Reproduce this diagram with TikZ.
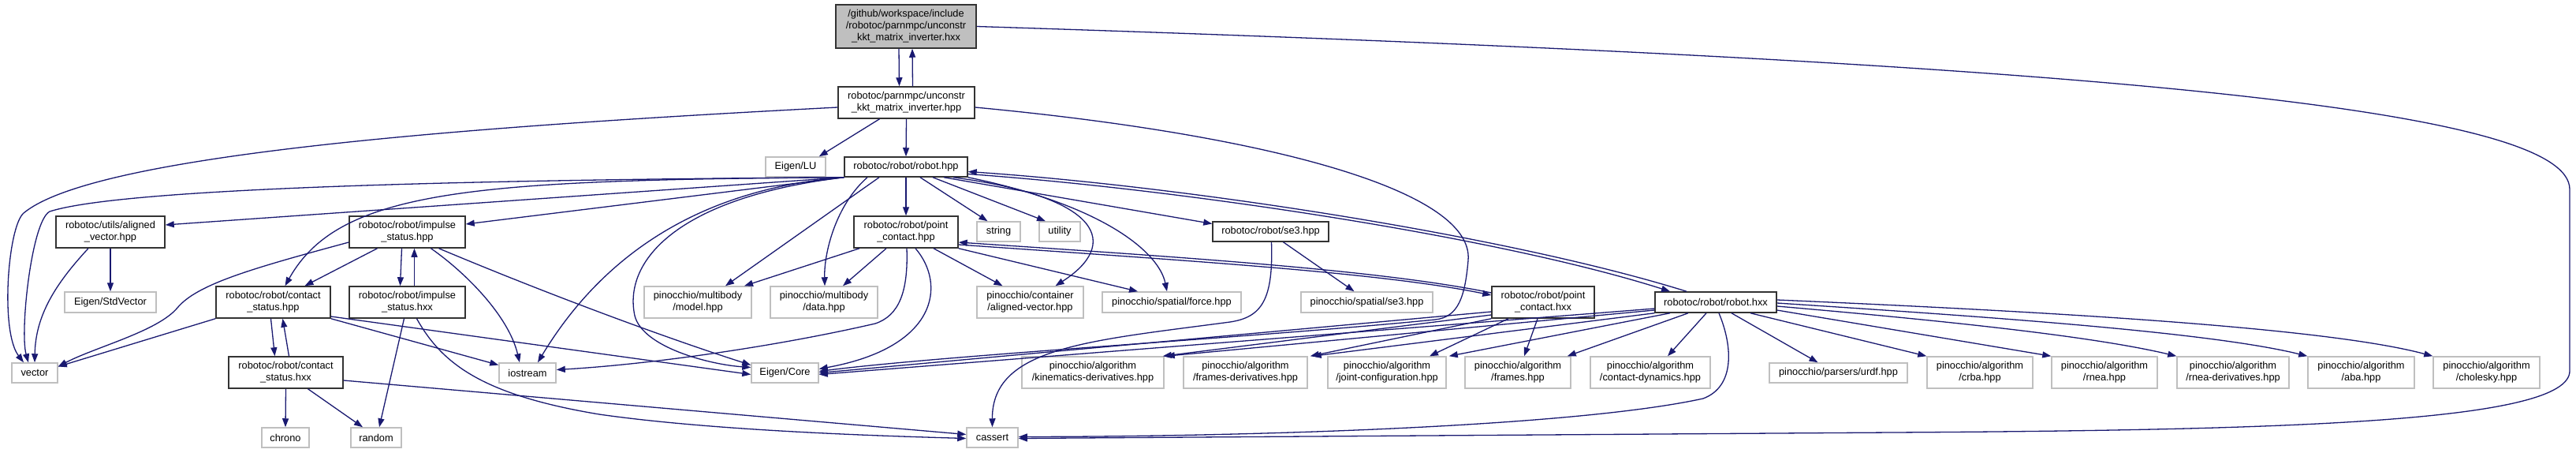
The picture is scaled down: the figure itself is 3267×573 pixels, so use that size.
\documentclass[tikz,border=0pt]{standalone}
\usepackage{fontspec}
\setmainfont{Liberation Sans}
\usetikzlibrary{arrows.meta}
\definecolor{edgec}{RGB}{25,25,112}
\newcommand{\nf}{\fontsize{12.8pt}{15pt}\selectfont}
\begin{document}
\begin{tikzpicture}[x=1pt,y=-1pt,
  nb/.style={draw=black!80, line width=1.5pt, fill=white, inner sep=0pt, align=center, font=\nf},
  ng/.style={draw=black!25, line width=1.5pt, fill=white, inner sep=0pt, align=center, font=\nf},
  dep/.style={draw=edgec, line width=1.3pt, -{Triangle[length=11pt,width=8pt]}}]
\useasboundingbox (0,0) rectangle (3267,573);
% nodes
\node[nb,fill=black!25,minimum width=178pt,minimum height=55pt] (top) at (1149,33.5) {/github/workspace/include\\/robotoc/parnmpc/unconstr\\\_kkt\_matrix\_inverter.hxx};
\node[nb,minimum width=173pt,minimum height=40pt] (unc) at (1149.5,130) {robotoc/parnmpc/unconstr\\\_kkt\_matrix\_inverter.hpp};
\node[ng,minimum width=76pt,minimum height=25pt] (lu) at (1009,211.5) {Eigen/LU};
\node[nb,minimum width=156pt,minimum height=25pt] (robot) at (1149,211.5) {robotoc/robot/robot.hpp};
\node[nb,minimum width=138pt,minimum height=40pt] (alv) at (140,294) {robotoc/utils/aligned\\\_vector.hpp};
\node[nb,minimum width=147pt,minimum height=40pt] (imph) at (516.5,294) {robotoc/robot/impulse\\\_status.hpp};
\node[nb,minimum width=132pt,minimum height=40pt] (pch) at (1149,294) {robotoc/robot/point\\\_contact.hpp};
\node[ng,minimum width=55pt,minimum height=25pt] (string) at (1266.5,293.5) {string};
\node[ng,minimum width=52pt,minimum height=25pt] (utility) at (1344,293.5) {utility};
\node[nb,minimum width=147pt,minimum height=25pt] (se3) at (1611.5,293.5) {robotoc/robot/se3.hpp};
\node[ng,minimum width=116pt,minimum height=26pt] (stdvec) at (140,383) {Eigen/StdVector};
\node[nb,minimum width=145pt,minimum height=40pt] (csh) at (346.5,383) {robotoc/robot/contact\\\_status.hpp};
\node[nb,minimum width=147pt,minimum height=40pt] (imhx) at (516.5,383) {robotoc/robot/impulse\\\_status.hxx};
\node[ng,minimum width=136pt,minimum height=40pt] (model) at (885,383) {pinocchio/multibody\\/model.hpp};
\node[ng,minimum width=136pt,minimum height=40pt] (data) at (1045,383) {pinocchio/multibody\\/data.hpp};
\node[ng,minimum width=135pt,minimum height=40pt] (cont) at (1306.5,383) {pinocchio/container\\/aligned-vector.hpp};
\node[ng,minimum width=176pt,minimum height=26pt] (force) at (1486,383) {pinocchio/spatial/force.hpp};
\node[ng,minimum width=167pt,minimum height=26pt] (pse3) at (1733.5,383) {pinocchio/spatial/se3.hpp};
\node[nb,minimum width=130pt,minimum height=40pt] (pcx) at (1957,383) {robotoc/robot/point\\\_contact.hxx};
\node[nb,minimum width=154pt,minimum height=26pt] (rhx) at (2176,383) {robotoc/robot/robot.hxx};
\node[ng,minimum width=58pt,minimum height=25pt] (vector) at (44,472.5) {vector};
\node[nb,minimum width=145pt,minimum height=40pt] (cshx) at (362.5,472) {robotoc/robot/contact\\\_status.hxx};
\node[ng,minimum width=72pt,minimum height=25pt] (iostream) at (669,472.5) {iostream};
\node[ng,minimum width=85pt,minimum height=25pt] (eigcore) at (995.5,472.5) {Eigen/Core};
\node[ng,minimum width=180pt,minimum height=40pt] (kin) at (1386,472) {pinocchio/algorithm\\/kinematics-derivatives.hpp};
\node[ng,minimum width=157pt,minimum height=40pt] (fder) at (1579.5,472) {pinocchio/algorithm\\/frames-derivatives.hpp};
\node[ng,minimum width=150pt,minimum height=40pt] (jconf) at (1759,472) {pinocchio/algorithm\\/joint-configuration.hpp};
\node[ng,minimum width=134pt,minimum height=40pt] (frames) at (1925,472) {pinocchio/algorithm\\/frames.hpp};
\node[ng,minimum width=152pt,minimum height=40pt] (cdyn) at (2093,472) {pinocchio/algorithm\\/contact-dynamics.hpp};
\node[ng,minimum width=175pt,minimum height=25pt] (urdf) at (2331.5,472.5) {pinocchio/parsers/urdf.hpp};
\node[ng,minimum width=134pt,minimum height=40pt] (crba) at (2511,472) {pinocchio/algorithm\\/crba.hpp};
\node[ng,minimum width=134pt,minimum height=40pt] (rnea) at (2669,472) {pinocchio/algorithm\\/rnea.hpp};
\node[ng,minimum width=142pt,minimum height=40pt] (rneader) at (2832,472) {pinocchio/algorithm\\/rnea-derivatives.hpp};
\node[ng,minimum width=135pt,minimum height=40pt] (aba) at (2994.5,472) {pinocchio/algorithm\\/aba.hpp};
\node[ng,minimum width=135pt,minimum height=40pt] (chol) at (3153.5,472) {pinocchio/algorithm\\/cholesky.hpp};
\node[ng,minimum width=60pt,minimum height=25pt] (chrono) at (362,554.5) {chrono};
\node[ng,minimum width=64pt,minimum height=25pt] (random) at (477,554.5) {random};
\node[ng,minimum width=65pt,minimum height=25pt] (cassert) at (1258.5,554.5) {cassert};
% edges: top / unc
\draw[dep] ([xshift=-9pt]top.south) -- ([xshift=-9pt]unc.north);
\draw[dep] ([xshift=8pt]unc.north) -- ([xshift=8pt]top.south);
\draw[dep] (top.east) .. controls (2700,80) and (3259,140) .. (3259,240) -- (3259,470) .. controls (3259,535) and (2900,545) .. (2400,548) -- ([yshift=-1pt]cassert.east);
\draw[dep] ([yshift=-6pt]unc.west) .. controls (600,160) and (120,195) .. (30,270) .. controls (10,287) and (0,420) .. ([xshift=-14pt]vector.north);
\draw[dep] ([xshift=-34pt]unc.south) -- ([xshift=-9pt]lu.north east);
\draw[dep] (unc.south) -- (robot.north);
\draw[dep] ([yshift=-6pt]unc.east) .. controls (1600,170) and (1870,240) .. (1862,330) .. controls (1858,375) and (1850,402) .. (1820,405) .. controls (1600,427) and (1200,450) .. ([yshift=2pt]eigcore.east);
% robot.hpp
\draw[dep] (robot.south west) .. controls (550,228) and (150,240) .. (63,268) .. controls (40,280) and (25,420) .. ([xshift=-8pt]vector.north);
\draw[dep] (robot.south west) -- ([yshift=9pt]alv.east);
\draw[dep] (robot.south west) -- ([yshift=10pt]imph.east);
\draw[dep] (robot.south west) .. controls (600,228) and (430,240) .. ([xshift=15pt]csh.north);
\draw[dep] (robot.south west) .. controls (880,240) and (760,330) .. ([xshift=13pt]iostream.north);
\draw[dep] (robot.south west) .. controls (860,250) and (790,330) .. (805,400) .. controls (815,440) and (900,462) .. ([yshift=7pt]eigcore.west);
\draw[dep] ([xshift=-34pt]robot.south) -- ([xshift=35pt]model.north);
\draw[dep] ([xshift=-49pt]robot.south) .. controls (1060,260) and (1045,320) .. ([xshift=1pt]data.north);
\draw[dep] (robot.south) -- (pch.north);
\draw[dep] ([xshift=18pt]robot.south) -- ([xshift=-14pt]string.north);
\draw[dep] ([xshift=34pt]robot.south) -- ([xshift=-18pt]utility.north);
\draw[dep] ([xshift=48pt]robot.south) -- ([yshift=10pt]se3.west);
\draw[dep] ([xshift=60pt]robot.south) .. controls (1400,250) and (1420,310) .. ([xshift=32pt]cont.north);
\draw[dep] (robot.south east) .. controls (1400,260) and (1470,320) .. ([xshift=-6pt]force.north);
\draw[dep] ([yshift=-9pt]robot.east) .. controls (1500,240) and (1900,300) .. ([xshift=-58pt]rhx.north);
\draw[dep] ([xshift=-37pt]rhx.north) .. controls (1910,298) and (1500,236) .. ([yshift=-6pt]robot.east);
% point_contact.hpp
\draw[dep] ([yshift=-16pt]pch.east) .. controls (1500,330) and (1750,345) .. ([yshift=9pt]pcx.west);
\draw[dep] ([yshift=12pt]pcx.west) .. controls (1750,342) and (1500,326) .. ([yshift=-13pt]pch.east);
\draw[dep] ([xshift=-59pt]pch.south) -- ([xshift=59pt]model.north);
\draw[dep] ([xshift=-25pt]pch.south) -- ([xshift=24pt]data.north);
\draw[dep] ([xshift=1pt]pch.south) .. controls (1152,370) and (1140,400) .. (1110,410) .. controls (980,440) and (820,462) .. ([yshift=4pt]iostream.east);
\draw[dep] ([xshift=12pt]pch.south) .. controls (1200,360) and (1190,440) .. ([yshift=5pt]eigcore.east);
\draw[dep] ([xshift=35pt]pch.south) -- ([xshift=-35pt]cont.north);
\draw[dep] (pch.south east) -- ([xshift=-43pt]force.north);
% impulse_status
\draw[dep] ([xshift=-38pt]imph.south) -- ([xshift=40pt]csh.north);
\draw[dep] ([xshift=-7pt]imph.south) -- ([xshift=-9pt]imhx.north);
\draw[dep] ([xshift=9pt]imhx.north) -- ([xshift=9pt]imph.south);
\draw[dep] ([yshift=-13pt]imph.west) .. controls (320,340) and (250,360) .. (225,390) .. controls (200,420) and (120,440) .. ([yshift=8pt]vector.east);
\draw[dep] ([xshift=30pt]imph.south) .. controls (590,345) and (645,400) .. ([xshift=-10pt]iostream.north);
\draw[dep] ([xshift=40pt]imph.south) .. controls (700,375) and (850,430) .. ([yshift=10pt]eigcore.west);
\draw[dep] ([xshift=-4pt]imhx.south) -- ([xshift=4pt]random.north);
\draw[dep] ([xshift=12pt]imhx.south) .. controls (560,460) and (610,500) .. (760,525) .. controls (900,545) and (1100,552) .. ([yshift=-1pt]cassert.west);
% contact_status
\draw[dep] (csh.south west) -- ([yshift=8pt]vector.east);
\draw[dep] ([xshift=-3pt]csh.south) -- ([xshift=-14pt]cshx.north);
\draw[dep] ([xshift=4pt]cshx.north) -- ([xshift=12pt]csh.south);
\draw[dep] (csh.south east) -- ([yshift=10pt]iostream.west);
\draw[dep] ([yshift=-18pt]csh.east) -- ([yshift=-2pt]eigcore.west);
\draw[dep] (cshx.south) -- (chrono.north);
\draw[dep] ([xshift=28pt]cshx.south) -- ([xshift=-17pt]random.north);
\draw[dep] ([yshift=-10pt]cshx.east) -- ([yshift=4pt]cassert.west);
% aligned_vector
\draw[dep] (alv.south) -- (stdvec.north);
\draw[dep] ([xshift=-28pt]alv.south) .. controls (70,360) and (45,400) .. (vector.north);
% se3
\draw[dep] ([xshift=16pt]se3.south) -- ([xshift=-16pt]pse3.north);
\draw[dep] ([xshift=1pt]se3.south) .. controls (1615,380) and (1600,402) .. (1560,408) .. controls (1380,432) and (1258,440) .. (cassert.north);
% point_contact.hxx
\draw[dep] ([yshift=-12pt]pcx.west) -- (eigcore.east);
\draw[dep] ([yshift=-16pt]pcx.west) -- ([xshift=-2pt]kin.north east);
\draw[dep] (pcx.south west) -- ([xshift=3pt]fder.north east);
\draw[dep] ([xshift=-44pt]pcx.south) -- ([xshift=54pt]jconf.north);
\draw[dep] ([xshift=-7pt]pcx.south) -- ([xshift=8pt]frames.north);
% robot.hxx
\draw[dep] ([yshift=-8pt]rhx.west) -- ([yshift=-2pt]eigcore.east);
\draw[dep] ([yshift=-10pt]rhx.west) -- ([xshift=2pt]kin.north east);
\draw[dep] (rhx.south west) -- ([xshift=6pt]fder.north east);
\draw[dep] ([xshift=-58pt]rhx.south) -- ([xshift=3pt]jconf.north east);
\draw[dep] ([xshift=-35pt]rhx.south) -- ([xshift=-5pt]frames.north east);
\draw[dep] ([xshift=-12pt]rhx.south) -- ([xshift=22pt]cdyn.north);
\draw[dep] ([xshift=4pt]rhx.south) .. controls (2198,440) and (2200,490) .. (2160,505) .. controls (2000,540) and (1600,553) .. ([yshift=1pt]cassert.east);
\draw[dep] ([xshift=20pt]rhx.south) -- ([xshift=-26pt]urdf.north);
\draw[dep] ([xshift=44pt]rhx.south) -- (crba.north west);
\draw[dep] ([yshift=-10pt]rhx.east) -- (rnea.north west);
\draw[dep] ([yshift=-5pt]rhx.east) .. controls (2450,405) and (2650,425) .. (rneader.north west);
\draw[dep] ([yshift=-1pt]rhx.east) .. controls (2500,400) and (2800,420) .. (aba.north west);
\draw[dep] ([yshift=3pt]rhx.east) .. controls (2600,395) and (2950,415) .. (chol.north west);
\end{tikzpicture}
\end{document}
